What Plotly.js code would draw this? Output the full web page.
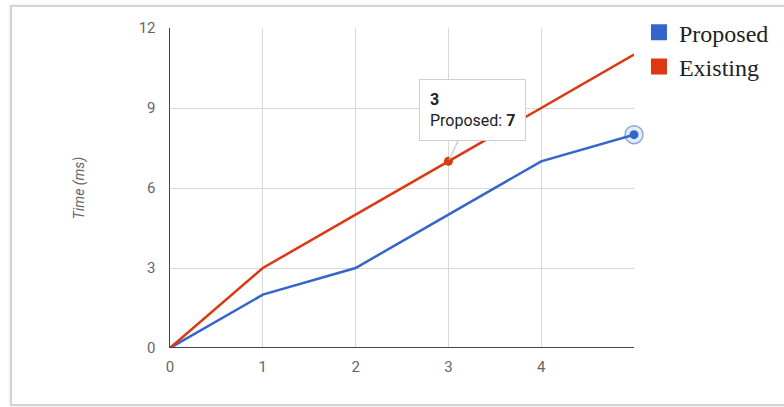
<!DOCTYPE html>
<html>
<head>
<meta charset="utf-8">
<script src="https://cdn.plot.ly/plotly-3.0.1.min.js"></script>
<style>
  html, body { margin: 0; padding: 0; background: #fff; }
  #chart { width: 784px; height: 407px; }
  #frame { position: absolute; left: 10px; top: 5px; width: 790px; height: 397px;
           border: 2px solid #d4d4d4; pointer-events: none; box-shadow: 0 0 3px #e4e4e4; }
</style>
</head>
<body>
<div id="chart"></div>
<div id="frame"></div>
<script>
// Data
const xValues = [0, 1, 2, 3, 4, 5];
const proposed = [0, 2, 3, 5, 7, 8];
const existing = [0, 3, 5, 7, 9, 11];
const seriesNames = ['Proposed', 'Existing'];
const xTicks = [0, 1, 2, 3, 4];
const yTicks = [0, 3, 6, 9, 12];
const tooltipIndex = 3;
const tooltipValue = 7;
const highlightIndex = 5;

const blue = '#3366cc';
const red = '#dc3912';

const traces = [
  { x: xValues, y: proposed, mode: 'lines', line: { color: blue, width: 2.5 }, showlegend: false, hoverinfo: 'skip' },
  { x: xValues, y: existing, mode: 'lines', line: { color: red, width: 2.5 }, showlegend: false, hoverinfo: 'skip' },
  // highlighted points
  { x: [xValues[tooltipIndex]], y: [existing[tooltipIndex]], mode: 'markers',
    marker: { color: red, size: 9, symbol: 'circle' }, showlegend: false, hoverinfo: 'skip' },
  { x: [xValues[highlightIndex]], y: [proposed[highlightIndex]], mode: 'markers',
    marker: { color: 'rgba(51,102,204,0.12)', size: 18, line: { color: 'rgba(51,102,204,0.55)', width: 1.5 } },
    showlegend: false, hoverinfo: 'skip', cliponaxis: false },
  { x: [xValues[highlightIndex]], y: [proposed[highlightIndex]], mode: 'markers',
    marker: { color: blue, size: 9 }, showlegend: false, hoverinfo: 'skip', cliponaxis: false },
  // legend entries
  { x: [null], y: [null], mode: 'markers', name: seriesNames[0],
    marker: { color: blue, symbol: 'square', size: 17 } },
  { x: [null], y: [null], mode: 'markers', name: seriesNames[1],
    marker: { color: red, symbol: 'square', size: 17 } }
];

const layout = {
  width: 784, height: 407,
  margin: { l: 170, r: 150, t: 28, b: 59 },
  paper_bgcolor: '#fff', plot_bgcolor: '#fff',
  showlegend: true,
  legend: {
    xref: 'container', yref: 'container',
    x: 0.815, y: 0.975, xanchor: 'left', yanchor: 'top',
    font: { family: 'Liberation Serif, Times New Roman, serif', size: 24, color: '#222' },
    itemwidth: 30, tracegroupgap: 0, bgcolor: 'rgba(0,0,0,0)'
  },
  xaxis: {
    range: [0, 5], tickvals: xTicks, ticktext: xTicks.map(String),
    showgrid: true, gridcolor: '#d9d9d9', gridwidth: 1,
    zeroline: false, showline: false, ticks: '',
    ticklabelstandoff: 8,
    tickfont: { family: 'Roboto, Arial, sans-serif', size: 15, color: '#666' },
    fixedrange: true
  },
  yaxis: {
    range: [0, 12], tickvals: yTicks, ticktext: yTicks.map(String),
    showgrid: true, gridcolor: '#d9d9d9', gridwidth: 1,
    zeroline: false, showline: true, linecolor: '#444', linewidth: 1.5, ticks: '',
    ticklabelstandoff: 10,
    tickfont: { family: 'Roboto, Arial, sans-serif', size: 15, color: '#666' },
    title: { text: 'Time (ms)', standoff: 50,
             font: { family: 'Roboto, Arial, sans-serif', size: 14, color: '#666', style: 'italic' } },
    fixedrange: true
  },
  shapes: [
    { type: 'line', xref: 'paper', yref: 'y', x0: 0, x1: 1, y0: 0, y1: 0,
      line: { color: '#444', width: 2 } }
  ],
  annotations: [
    {
      x: xValues[tooltipIndex], y: existing[tooltipIndex], xref: 'x', yref: 'y',
      text: '<b>' + xValues[tooltipIndex] + '</b><br>' + seriesNames[0] + ': <b>' + tooltipValue + '</b>',
      align: 'left', showarrow: true, arrowhead: 0, arrowwidth: 1.5, arrowcolor: '#cfcfcf',
      ax: 24, ay: -51, standoff: 2,
      bgcolor: '#fff', bordercolor: '#cfcfcf', borderwidth: 1, borderpad: 10,
      font: { family: 'Roboto, Arial, sans-serif', size: 16, color: '#222' }
    }
  ]
};

Plotly.newPlot('chart', traces, layout, { displayModeBar: false, staticPlot: true });
</script>
</body>
</html>
